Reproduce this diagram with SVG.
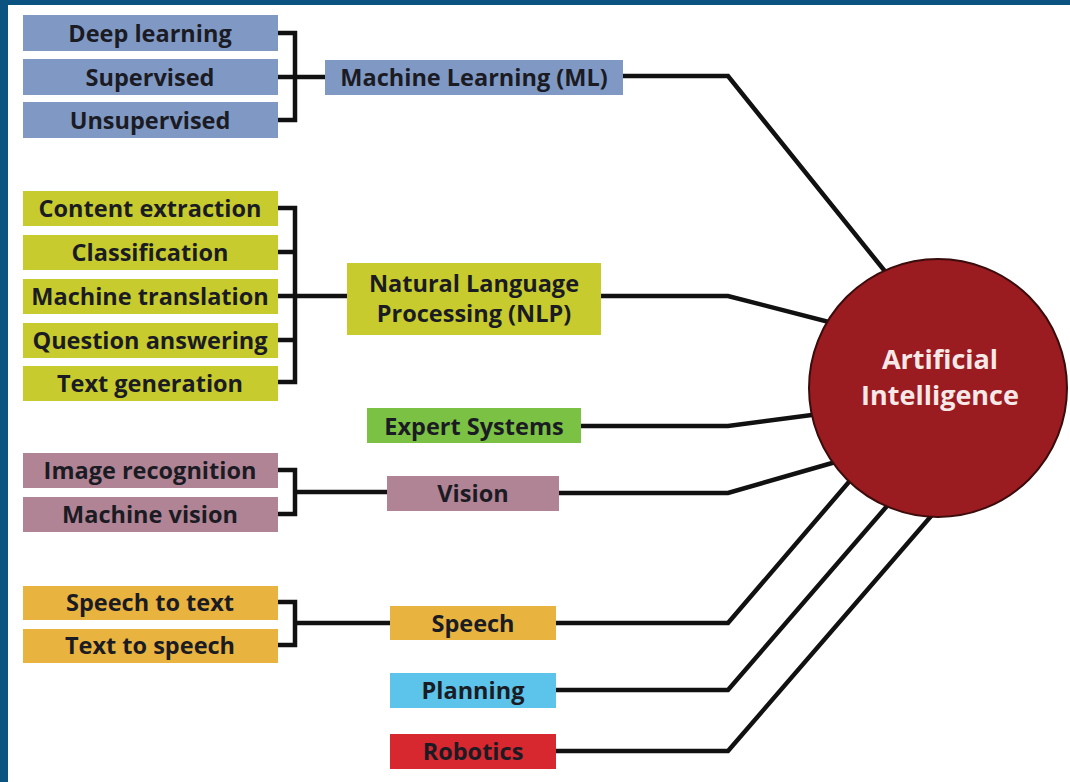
<svg xmlns="http://www.w3.org/2000/svg" width="1070" height="782" viewBox="0 0 1070 782">
<style>
.t{font-family:"Open Sans","Liberation Sans",sans-serif;font-weight:700;font-size:23.5px;fill:#1b1b24;text-anchor:middle;dominant-baseline:central}
.ml{fill:#8099c4}.nlp{fill:#c7cb2d}.ex{fill:#7bc143}.vi{fill:#b08495}.sp{fill:#e8b33f}.pl{fill:#5cc4ea}.ro{fill:#d7272f}
.c{fill:none;stroke:#111;stroke-width:4.5;stroke-linejoin:miter}
.ai{font-family:"Open Sans","Liberation Sans",sans-serif;font-weight:700;font-size:27px;fill:#f7e8e8;text-anchor:middle}
</style>
<rect x="0" y="0" width="1070" height="782" fill="#ffffff"/>
<rect x="0" y="0" width="1070" height="5" fill="#0b5482"/>
<rect x="0" y="0" width="8" height="782" fill="#0b5482"/>

<g id="connectors">
<path class="c" d="M278 33H295V120H278M278 77H325"/>
<path class="c" d="M278 208H295V382H278M278 252H295M278 296H347M278 340H295"/>
<path class="c" d="M278 470H295V514H278M295 492H387"/>
<path class="c" d="M278 602H295V645H278M295 623H390"/>
<path class="c" d="M623 76H728L900 290"/>
<path class="c" d="M601 296H728L860 330"/>
<path class="c" d="M581 426H728L850 410"/>
<path class="c" d="M559 493H728L860 455"/>
<path class="c" d="M556 623H728L860 469"/>
<path class="c" d="M556 690H728L900 491"/>
<path class="c" d="M556 751H728L945 500"/>
</g>

<g id="ml-deep"><rect class="ml" x="23" y="15" width="255" height="36"/><text class="t" x="150" y="33">Deep learning</text></g>
<g id="ml-sup"><rect class="ml" x="23" y="59" width="255" height="36"/><text class="t" x="150" y="77">Supervised</text></g>
<g id="ml-unsup"><rect class="ml" x="23" y="102" width="255" height="36"/><text class="t" x="150" y="120">Unsupervised</text></g>
<g id="ml"><rect class="ml" x="325" y="60" width="298" height="35"/><text class="t" x="474" y="77">Machine Learning (ML)</text></g>

<g id="nlp-content"><rect class="nlp" x="23" y="191" width="255" height="35"/><text class="t" x="150" y="208">Content extraction</text></g>
<g id="nlp-class"><rect class="nlp" x="23" y="235" width="255" height="35"/><text class="t" x="150" y="252">Classification</text></g>
<g id="nlp-mt"><rect class="nlp" x="23" y="279" width="255" height="35"/><text class="t" x="150" y="296">Machine translation</text></g>
<g id="nlp-qa"><rect class="nlp" x="23" y="323" width="255" height="35"/><text class="t" x="150" y="340">Question answering</text></g>
<g id="nlp-tg"><rect class="nlp" x="23" y="366" width="255" height="35"/><text class="t" x="150" y="383">Text generation</text></g>
<g id="nlp"><rect class="nlp" x="347" y="263" width="254" height="72"/><text class="t" x="474" y="283">Natural Language</text><text class="t" x="474" y="313">Processing (NLP)</text></g>

<g id="expert"><rect class="ex" x="367" y="408" width="214" height="35"/><text class="t" x="474" y="426">Expert Systems</text></g>

<g id="vi-img"><rect class="vi" x="23" y="453" width="255" height="35"/><text class="t" x="150" y="470">Image recognition</text></g>
<g id="vi-mv"><rect class="vi" x="23" y="497" width="255" height="35"/><text class="t" x="150" y="514">Machine vision</text></g>
<g id="vision"><rect class="vi" x="387" y="476" width="172" height="35"/><text class="t" x="473" y="493">Vision</text></g>

<g id="sp-stt"><rect class="sp" x="23" y="586" width="255" height="34"/><text class="t" x="150" y="602">Speech to text</text></g>
<g id="sp-tts"><rect class="sp" x="23" y="629" width="255" height="34"/><text class="t" x="150" y="645">Text to speech</text></g>
<g id="speech"><rect class="sp" x="390" y="606" width="166" height="34"/><text class="t" x="473" y="623">Speech</text></g>

<g id="planning"><rect class="pl" x="390" y="673" width="166" height="35"/><text class="t" x="473" y="690">Planning</text></g>
<g id="robotics"><rect class="ro" x="390" y="734" width="166" height="35"/><text class="t" x="473" y="751">Robotics</text></g>

<g id="ai"><circle cx="938" cy="388" r="129" fill="#9a1b20" stroke="#3a0c0c" stroke-width="2"/><text class="ai" x="940" y="369">Artificial</text><text class="ai" x="940" y="405">Intelligence</text></g>
</svg>
